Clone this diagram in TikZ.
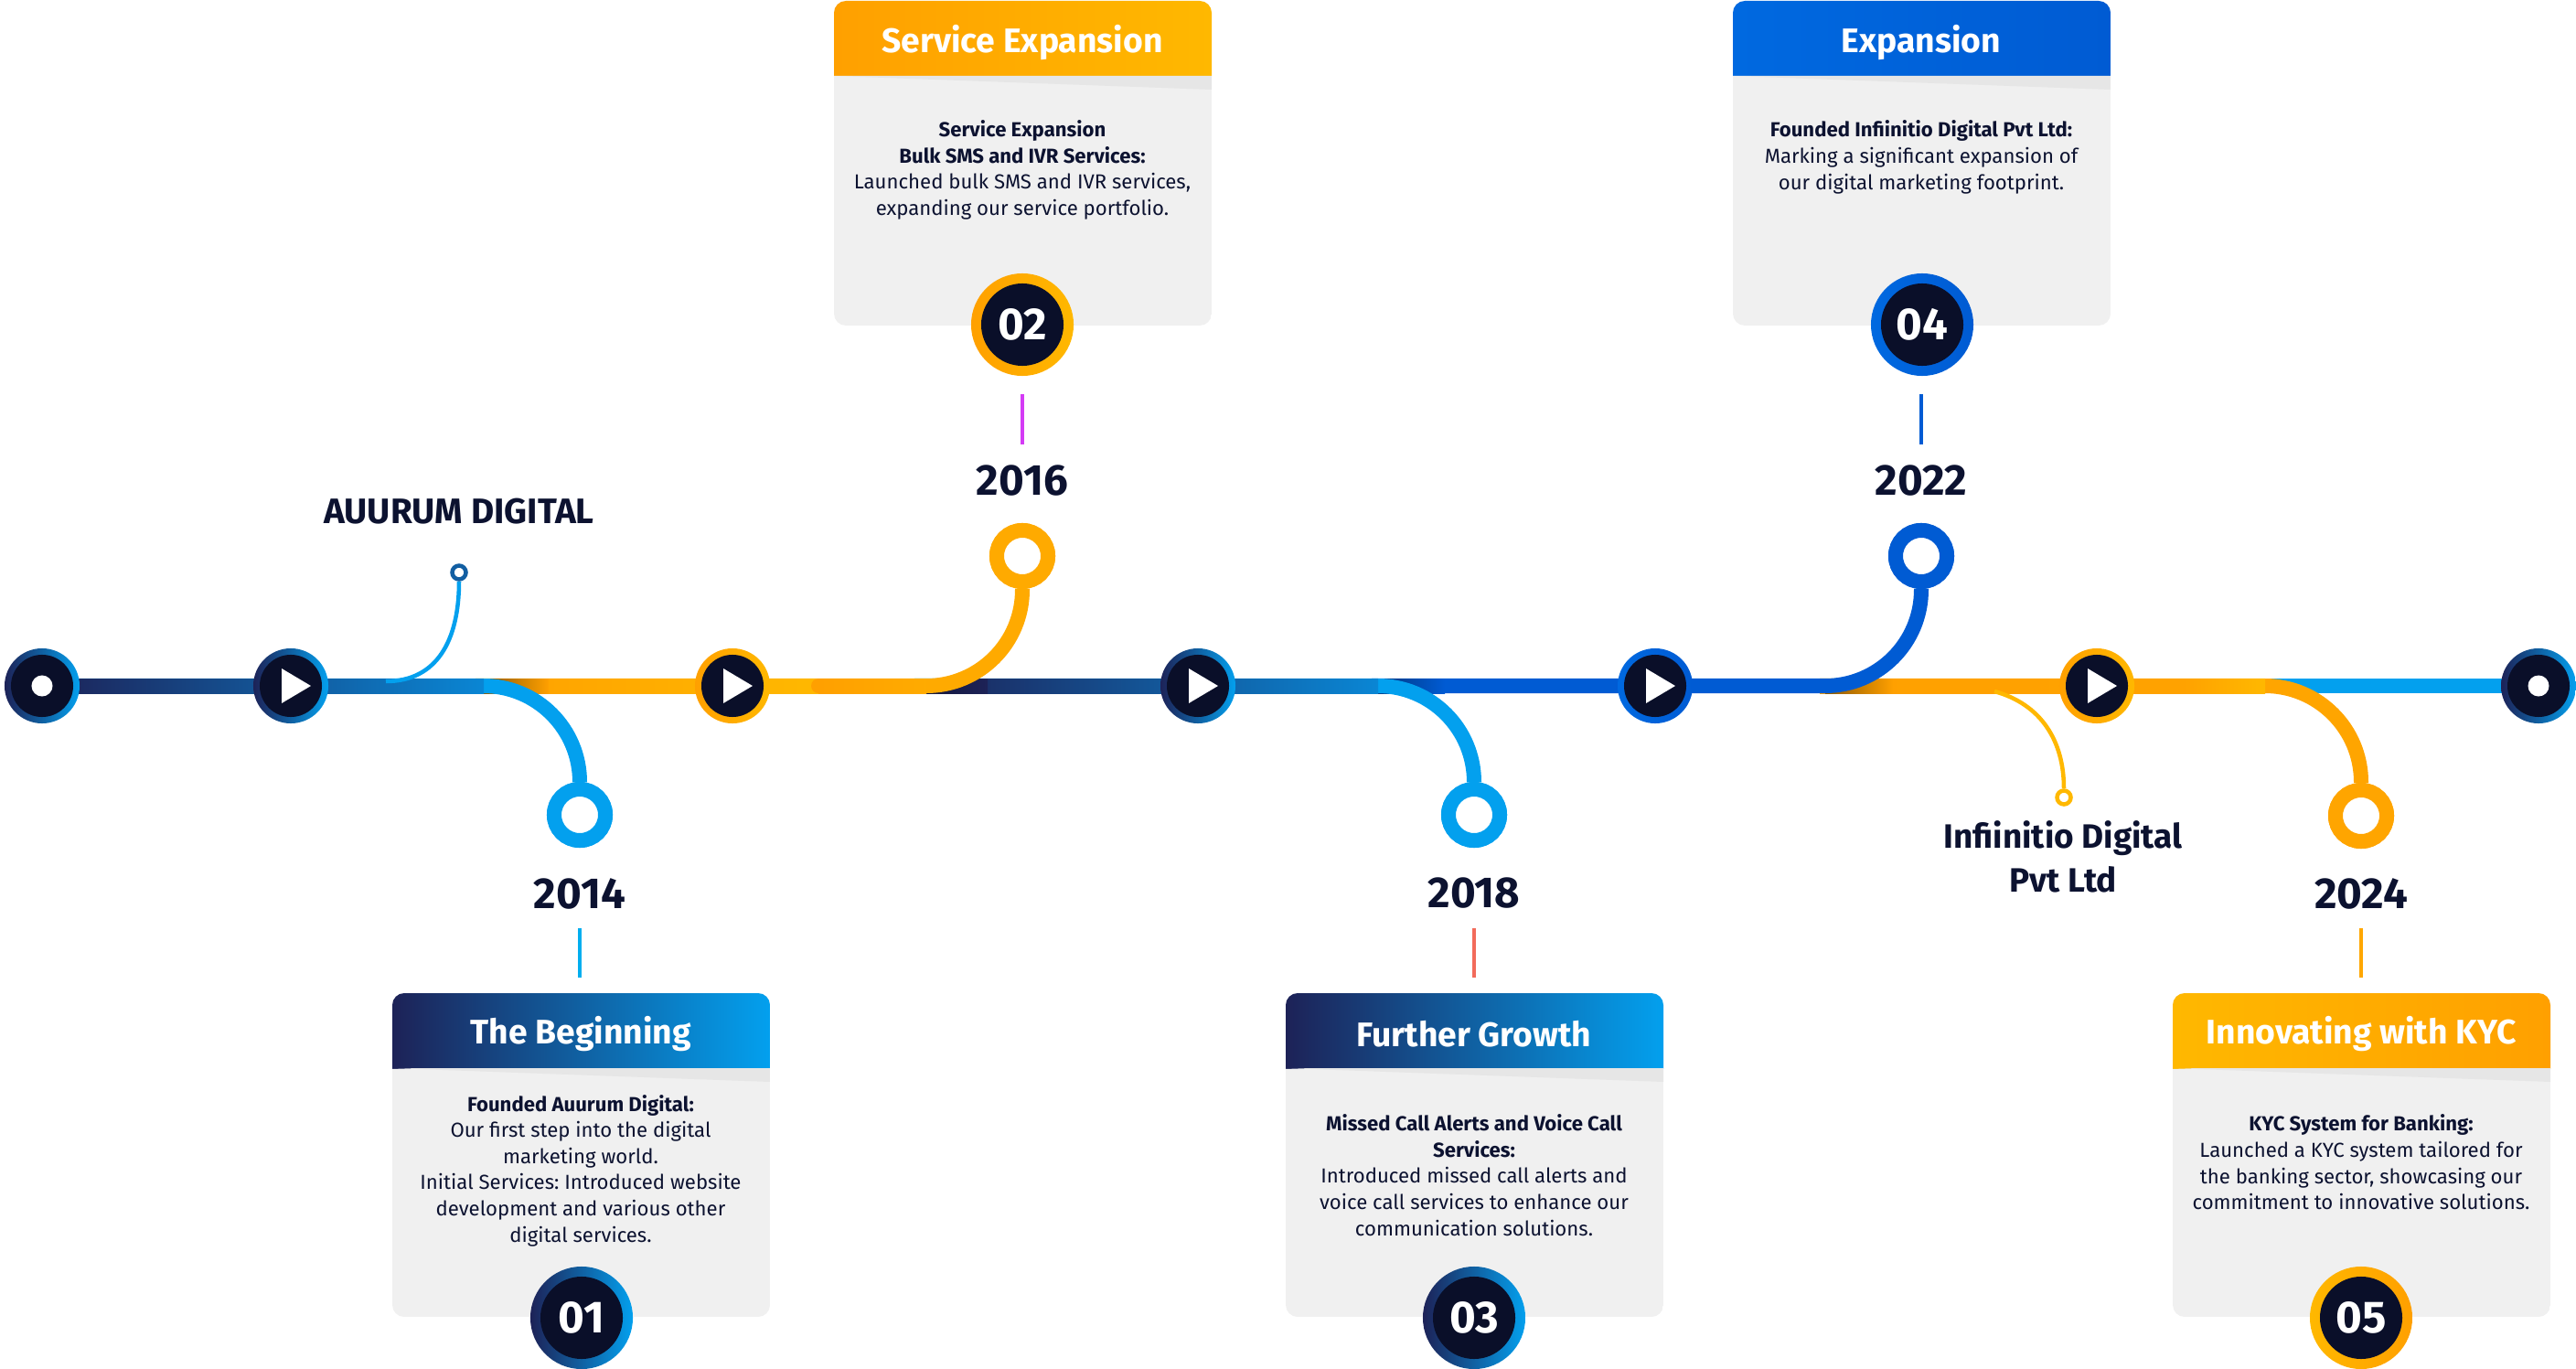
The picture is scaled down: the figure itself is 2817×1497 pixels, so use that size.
\documentclass[tikz,border=0pt]{standalone}
\usepackage{fontspec}
\setmainfont{Fira Sans}
\frenchspacing

\definecolor{navy}{HTML}{1D2257}
\definecolor{core}{HTML}{0A0F29}
\definecolor{sky}{HTML}{03A0EE}
\definecolor{midblue}{HTML}{0A86D4}
\definecolor{royal}{HTML}{005BD3}
\definecolor{royallt}{HTML}{0069E0}
\definecolor{amber}{HTML}{FFA000}
\definecolor{gold}{HTML}{FFB800}
\definecolor{ink}{HTML}{0C1230}
\definecolor{cardbg}{HTML}{F0F0F0}
\definecolor{cardsh}{HTML}{E6E6E6}
\definecolor{tickcyan}{HTML}{00AEEF}
\definecolor{tickpink}{HTML}{D43BF5}
\definecolor{ticksalmon}{HTML}{F26B5B}

\tikzset{
  seg/.style={line width=1.6mm, rounded corners=1.05cm},
  yring/.style={circle, draw, fill=white, line width=1.6mm, minimum size=5.6mm, inner sep=0},
  minring/.style={circle, draw, fill=white, line width=0.45mm, minimum size=1.5mm, inner sep=0},
  stopring/.style={circle, minimum size=8.2mm, inner sep=0},
  stopcore/.style={circle, fill=core, minimum size=6.8mm, inner sep=0},
  numring/.style={circle, minimum size=11.2mm, inner sep=0},
  numcore/.style={circle, fill=core, minimum size=9mm, inner sep=0, text=white, font=\fontsize{14}{14}\selectfont\bfseries},
  year/.style={text=ink, font=\fontsize{13.5}{14}\selectfont\bfseries},
  head/.style={text=white, font=\fontsize{10.6}{12}\selectfont\bfseries},
  body/.style={text=ink, align=center, inner sep=0, font=\fontsize{6.3}{8.14}\selectfont},
  tag/.style={text=ink, align=center, font=\fontsize{10.5}{13.7}\selectfont\bfseries},
  tick/.style={line width=0.4mm},
  thinline/.style={line width=0.45mm},
}

\begin{document}
\begin{tikzpicture}[x=0.01cm,y=-0.01cm]
\useasboundingbox (0,0) rectangle (2817,1497);

\node[yring, draw=sky] (y14) at (634,891) {};
\node[yring, draw=amber!60!gold] (y16) at (1118,608) {};
\node[yring, draw=sky] (y18) at (1612,891) {};
\node[yring, draw=royal] (y22) at (2101,608) {};
\node[yring, draw=amber!80!gold] (y24) at (2582,892) {};

\coordinate (sB) at (520,750);
\coordinate (sC) at (1000,750);
\coordinate (sD) at (1500,750);
\coordinate (sE) at (1990,750);
\coordinate (sF) at (2470,750);
\coordinate (s0) at (46,750);
\coordinate (s6) at (2776,750);

\draw[seg, sky] (sF) -- (s6);
\draw[seg, amber!80!gold] (sE) -| (y24.north);
\shade[left color=amber!90!gold, right color=gold] (2477,742) rectangle (2390,758);
\shade[left color=amber, right color=amber!90!gold] (1990,742) rectangle (2390,758);
\shade[left color=amber!55!black, right color=amber] (1996,742) rectangle (2070,758);
\draw[seg, royal] (sD) -| (y22.south);
\shade[left color=royal!60!black, right color=royal] (1507,742) rectangle (1580,758);
\draw[seg, sky] (sC) -| (y18.north);
\shade[left color=navy, right color=midblue] (1000,742) rectangle (1507,758);
\shade[left color=navy!70!black, right color=navy] (1013,742) rectangle (1080,758);
\draw[seg, amber!60!gold] (sB) -| (y16.south);
\shade[left color=amber, right color=gold] (520,742) rectangle (895,758);
\fill[amber] (895,750) circle (0.8mm);
\shade[left color=amber, right color=amber!55!gold] (895,742) rectangle (1013,758);
\shade[left color=amber!55!black, right color=amber] (529,742) rectangle (600,758);
\draw[seg, sky] (s0) -| (y14.north);
\shade[left color=navy, right color=midblue] (46,742) rectangle (529,758);

\node[yring, draw=sky] at (y14) {};
\node[yring, draw=amber!60!gold] at (y16) {};
\node[yring, draw=sky] at (y18) {};
\node[yring, draw=royal] at (y22) {};
\node[yring, draw=amber!80!gold] at (y24) {};

\node[minring, draw=midblue!60!navy] (a) at (502,626) {};
\coordinate (aa) at (422,745);
\draw[thinline, sky] (aa) .. controls (478,745) and (502,700) .. (a.south);
\node[minring, draw=gold] (b) at (2257,872) {};
\coordinate (bb) at (2181,756);
\draw[thinline, gold] (bb) .. controls (2232,770) and (2257,810) .. (b.north);

\node[stopring, left color=navy, right color=sky] (n0) at (s0) {};
\node[stopcore] at (n0) {};
\fill[white] (n0) circle (1.15mm);
\node[stopring, left color=navy, right color=sky] (n1) at (318,750) {};
\node[stopcore] at (n1) {};
\fill[white] (308,731) -- (308,769) -- (340,750) -- cycle;
\node[stopring, left color=amber, right color=gold] (n2) at (801,750) {};
\node[stopcore] at (n2) {};
\fill[white] (791,731) -- (791,769) -- (823,750) -- cycle;
\node[stopring, left color=navy, right color=sky] (n3) at (1310,750) {};
\node[stopcore] at (n3) {};
\fill[white] (1300,731) -- (1300,769) -- (1332,750) -- cycle;
\node[stopring, left color=royallt, right color=royal] (n4) at (1810,750) {};
\node[stopcore] at (n4) {};
\fill[white] (1800,731) -- (1800,769) -- (1832,750) -- cycle;
\node[stopring, left color=amber, right color=gold] (n5) at (2293,750) {};
\node[stopcore] at (n5) {};
\fill[white] (2283,731) -- (2283,769) -- (2315,750) -- cycle;
\node[stopring, left color=navy, right color=sky] (n6) at (s6) {};
\node[stopcore] at (n6) {};
\fill[white] (n6) circle (1.15mm);

\node[tag, font=\fontsize{11}{13.7}\selectfont\bfseries] (auurum) at (502,559) {AUURUM DIGITAL};
\node[tag] (infiinitio) at (2256,937) {Infiinitio Digital\\Pvt Ltd};

\node[year] (t14) at (634,977) {2014};
\node[year] (t16) at (1118,526) {2016};
\node[year] (t18) at (1612,977) {2018};
\node[year] (t22) at (2101,526) {2022};
\node[year] (t24) at (2582,977) {2024};

\draw[tick, tickcyan] (634,1015) -- (634,1069);
\draw[tick, tickpink] (1118,431) -- (1118,486);
\draw[tick, ticksalmon] (1612,1015) -- (1612,1069);
\draw[tick, royal] (2101,431) -- (2101,486);
\draw[tick, amber!70!gold] (2582,1015) -- (2582,1069);

\begin{scope}
\clip[rounded corners=1.3mm] (429,1086) rectangle (842,1440);
\fill[cardbg] (429,1086) rectangle (842,1440);
\shade[left color=navy, right color=sky] (429,1086) rectangle (842,1168);
\fill[cardsh] (429,1168) -- (842,1168) -- (842,1183) -- cycle;
\end{scope}
\node[head] at (635,1131) {The Beginning};
\node[body] at (635,1280) {\textbf{Founded Auurum Digital:}\\Our first step into the digital\\marketing world.\\Initial Services: Introduced website\\development and various other\\digital services.};
\node[numring, left color=navy, right color=sky] (c1) at (636,1441) {};
\node[numcore] at (c1) {01};

\begin{scope}
\clip[rounded corners=1.3mm] (912,1) rectangle (1325,356);
\fill[cardbg] (912,1) rectangle (1325,356);
\shade[left color=amber, right color=gold] (912,1) rectangle (1325,83);
\fill[cardsh] (912,83) -- (1325,83) -- (1325,98) -- cycle;
\end{scope}
\node[head] at (1118,47) {Service Expansion};
\node[body] at (1118,186) {\textbf{Service Expansion}\\\textbf{Bulk SMS and IVR Services:}\\Launched bulk SMS and IVR services,\\expanding our service portfolio.};
\node[numring, left color=amber, right color=gold] (c2) at (1118,355) {};
\node[numcore] at (c2) {02};

\begin{scope}
\clip[rounded corners=1.3mm] (1406,1086) rectangle (1819,1440);
\fill[cardbg] (1406,1086) rectangle (1819,1440);
\shade[left color=navy, right color=sky] (1406,1086) rectangle (1819,1168);
\fill[cardsh] (1406,1168) -- (1819,1168) -- (1819,1183) -- cycle;
\end{scope}
\node[head] at (1612,1131) {Further Growth};
\node[body] at (1612,1285) {\textbf{Missed Call Alerts and Voice Call}\\\textbf{Services:}\\Introduced missed call alerts and\\voice call services to enhance our\\communication solutions.};
\node[numring, left color=navy, right color=sky] (c3) at (1612,1441) {};
\node[numcore] at (c3) {03};

\begin{scope}
\clip[rounded corners=1.3mm] (1895,1) rectangle (2308,356);
\fill[cardbg] (1895,1) rectangle (2308,356);
\shade[left color=royallt, right color=royal] (1895,1) rectangle (2308,83);
\fill[cardsh] (1895,83) -- (2308,83) -- (2308,98) -- cycle;
\end{scope}
\node[head] at (2101,47) {Expansion};
\node[body] at (2101,172) {\textbf{Founded Infiinitio Digital Pvt Ltd:}\\Marking a significant expansion of\\our digital marketing footprint.};
\node[numring, left color=royallt, right color=royal] (c4) at (2102,355) {};
\node[numcore] at (c4) {04};

\begin{scope}
\clip[rounded corners=1.3mm] (2376,1086) rectangle (2789,1440);
\fill[cardbg] (2376,1086) rectangle (2789,1440);
\shade[left color=gold, right color=amber] (2376,1086) rectangle (2789,1168);
\fill[cardsh] (2376,1168) -- (2789,1168) -- (2789,1183) -- cycle;
\end{scope}
\node[head] at (2582,1131) {Innovating with KYC};
\node[body] at (2582,1271) {\textbf{KYC System for Banking:}\\Launched a KYC system tailored for\\the banking sector, showcasing our\\commitment to innovative solutions.};
\node[numring, left color=gold, right color=amber] (c5) at (2582,1441) {};
\node[numcore] at (c5) {05};
\end{tikzpicture}
\end{document}
